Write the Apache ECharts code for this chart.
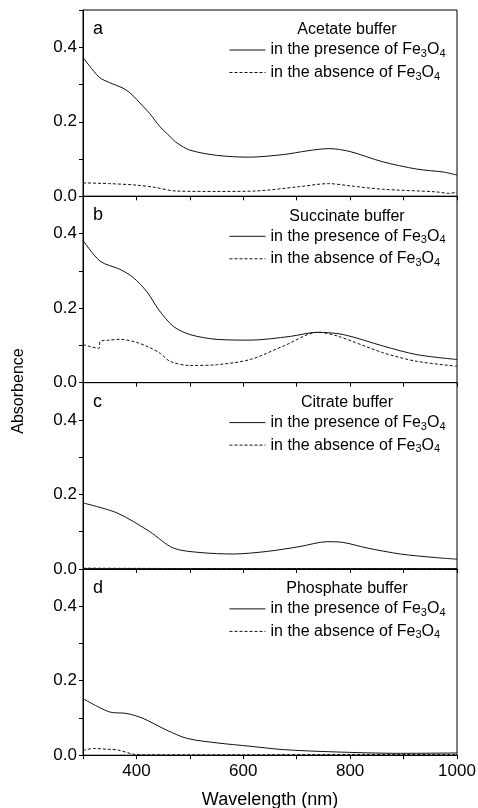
<!DOCTYPE html>
<html>
<head>
<meta charset="utf-8">
<script src="https://cdn.jsdelivr.net/npm/echarts@6/dist/echarts.min.js"></script>
<style>
  html, body { margin: 0; padding: 0; background: #fff; }
  #chart { width: 478px; height: 808px; }
</style>
</head>
<body>
<div id="chart"></div>
<script>
// panel labels / buffers
const panelLetters = ['a', 'b', 'c', 'd'];
const bufferNames = ['Acetate buffer', 'Succinate buffer', 'Citrate buffer', 'Phosphate buffer'];
const seriesNames = ['in the presence of Fe3O4', 'in the absence of Fe3O4'];

// x ticks (nm), y ticks (absorbance)
const xLabels = [400, 600, 800, 1000];
const yLabels = [0, 0.2, 0.4];

// [wavelength nm, absorbance]
const acetatePresence = [[300, 0.373], [330, 0.32], [350, 0.305], [375, 0.29], [390, 0.275], [410, 0.245],
  [425, 0.222], [444, 0.187], [463, 0.16], [476, 0.143], [500, 0.124], [550, 0.11], [610, 0.105],
  [675, 0.112], [720, 0.122], [760, 0.128], [800, 0.12], [860, 0.093], [925, 0.073], [975, 0.065], [1000, 0.057]];
const acetateAbsence = [[300, 0.036], [350, 0.034], [400, 0.03], [430, 0.025], [476, 0.014], [550, 0.013],
  [620, 0.014], [700, 0.025], [760, 0.034], [800, 0.028], [860, 0.019], [960, 0.012], [985, 0.008], [1000, 0.011]];

const succinatePresence = [[300, 0.382], [332, 0.326], [369, 0.304], [394, 0.282], [420, 0.243],
  [442, 0.195], [469, 0.151], [500, 0.129], [551, 0.116], [613, 0.114], [688, 0.124], [738, 0.135],
  [787, 0.129], [862, 0.098], [925, 0.075], [1000, 0.062]];
const succinateAbsence = [[300, 0.102], [315, 0.096], [330, 0.092], [332, 0.11], [350, 0.114], [370, 0.116],
  [400, 0.108], [425, 0.094], [445, 0.078], [463, 0.057], [500, 0.046], [550, 0.048], [613, 0.062],
  [675, 0.098], [740, 0.135], [776, 0.125], [862, 0.08], [925, 0.057], [1000, 0.044]];

const citratePresence = [[300, 0.177], [364, 0.15], [425, 0.1], [469, 0.056], [519, 0.044], [581, 0.04],
  [645, 0.047], [706, 0.06], [757, 0.073], [787, 0.071], [832, 0.056], [894, 0.04], [955, 0.031], [1000, 0.026]];
const citrateAbsence = [[300, 0.002], [500, 0.001], [700, 0.001], [900, 0.001], [1000, 0.001]];

const phosphatePresence = [[300, 0.152], [350, 0.116], [382, 0.112], [412, 0.099], [457, 0.067], [495, 0.045],
  [551, 0.033], [613, 0.024], [675, 0.015], [768, 0.009], [894, 0.005], [1000, 0.006]];
const phosphateAbsence = [[300, 0.013], [320, 0.018], [345, 0.016], [365, 0.014], [394, 0.003], [420, 0.001],
  [600, 0.001], [800, 0.002], [1000, 0.002]];

const panelData = [
  [acetatePresence, acetateAbsence],
  [succinatePresence, succinateAbsence],
  [citratePresence, citrateAbsence],
  [phosphatePresence, phosphateAbsence]
];

const FONT = 'Liberation Sans, Arial, sans-serif';
const myChart = echarts.init(document.getElementById('chart'));

const gridLeft = 83;
const gridRight = 21;
const gridTop0 = 10;
const gridH = 186.3;

let grids = [];
let xAxes = [];
let yAxes = [];
let series = [];
let legends = [];
let graphics = [];

for (let i = 0; i < 4; i++) {
  const top = gridTop0 + i * gridH;
  const last = i === 3;
  grids.push({
    left: gridLeft, right: gridRight, top: top, height: gridH,
    show: true, borderColor: '#000', borderWidth: 1,
    outerBoundsMode: 'none'
  });
  xAxes.push({
    type: 'value', gridIndex: i, min: 300, max: 1000, interval: 100,
    axisLine: { show: true, onZero: false, lineStyle: { color: '#000', width: 1 } },
    axisTick: { show: true, length: 4, lineStyle: { color: '#000' } },
    splitLine: { show: false },
    axisLabel: {
      show: last, color: '#000', fontSize: 17, fontFamily: FONT, margin: 8,
      formatter: v => (xLabels.indexOf(v) >= 0 ? String(v) : '')
    },
    name: last ? 'Wavelength (nm)' : '',
    nameLocation: 'middle', nameGap: 36,
    nameTextStyle: { color: '#000', fontSize: 18, fontFamily: FONT }
  });
  yAxes.push({
    type: 'value', gridIndex: i, min: 0, max: 0.5, interval: 0.1,
    axisLine: { show: true, lineStyle: { color: '#000', width: 1 } },
    axisTick: { show: true, length: 4, lineStyle: { color: '#000' } },
    splitLine: { show: false },
    axisLabel: {
      color: '#000', fontSize: 17, fontFamily: FONT, margin: 6,
      formatter: v => {
        const hit = yLabels.some(t => Math.abs(t - v) < 1e-6);
        return hit ? v.toFixed(1) : '';
      }
    }
  });
  // solid + dashed curves
  for (let k = 0; k < 2; k++) {
    series.push({
      name: seriesNames[k],
      type: 'line',
      xAxisIndex: i, yAxisIndex: i,
      data: panelData[i][k],
      smooth: 0.3,
      symbol: 'none',
      lineStyle: { color: '#111', width: 1, type: k === 0 ? 'solid' : [3, 2] },
      itemStyle: { color: '#111' },
      animation: false
    });
  }
  legends.push({
    orient: 'vertical',
    left: 224, top: top + 27,
    itemWidth: 36, itemHeight: 14, itemGap: 5,
    selectedMode: false,
    data: seriesNames,
    itemStyle: { opacity: 0 },
    lineStyle: { width: 1 },
    formatter: name => '{n|' + name.replace(' Fe3O4', ' Fe}{sub|3}{n|O}{sub|4}'),
    textStyle: {
      color: '#000', fontSize: 16, fontFamily: FONT,
      rich: {
        n: { fontSize: 16, fontFamily: FONT, color: '#000', verticalAlign: 'middle', lineHeight: 19 },
        sub: { fontSize: 11, fontFamily: FONT, color: '#000', verticalAlign: 'bottom', lineHeight: 11 }
      }
    }
  });
  graphics.push({
    type: 'text', x: 93, y: top + 19,
    style: { text: panelLetters[i], font: '18px ' + FONT, fill: '#000', align: 'left', verticalAlign: 'middle' }
  });
  graphics.push({
    type: 'text', x: 347, y: top + 20,
    style: { text: bufferNames[i], font: '16px ' + FONT, fill: '#000', align: 'center', verticalAlign: 'middle' }
  });
}

graphics.push({
  type: 'text', x: 19, y: 391, rotation: Math.PI / 2,
  style: { text: 'Absorbence', font: '16px ' + FONT, fill: '#000', align: 'center', verticalAlign: 'middle' }
});

let option = {
  backgroundColor: '#fff',
  animation: false,
  grid: grids,
  xAxis: xAxes,
  yAxis: yAxes,
  legend: legends,
  graphic: graphics,
  series: series
};
myChart.setOption(option, true);
</script>
</body>
</html>
